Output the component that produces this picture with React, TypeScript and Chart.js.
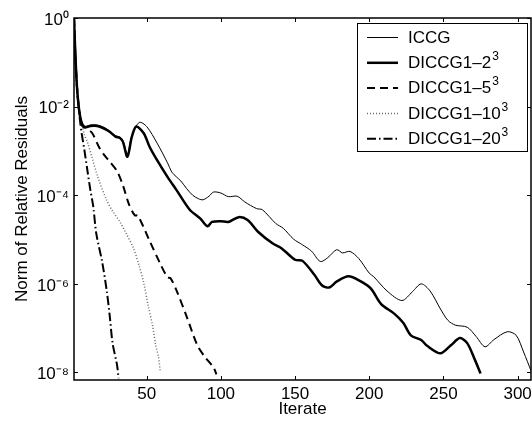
import { useEffect, useRef } from 'react';
import { Chart, registerables } from 'chart.js';

Chart.register(...registerables);

const FONT = '"Liberation Sans", Arial, Helvetica, sans-serif';

// ICCG
const iccgIter = [1, 2, 3, 4, 5, 6, 7, 9, 12, 15, 18, 22, 25, 29, 32, 34, 37, 40, 45, 50, 57, 64, 67, 70, 73, 77, 81, 85, 88, 92, 95, 100, 105, 111, 116, 124, 128, 137, 142, 149, 155, 161, 167, 172, 178, 182, 187, 193, 200, 203, 212, 222, 229, 235, 241, 248, 253, 258, 266, 272, 278, 284, 293, 299, 304, 309];
const iccgRes = [1, 1.26e-1, 2.8e-2, 1.12e-2, 6.3e-3, 4.5e-3, 3.7e-3, 3.6e-3, 3.85e-3, 3.9e-3, 3.75e-3, 3.3e-3, 2.8e-3, 2.2e-3, 2.05e-3, 1.7e-3, 8.5e-4, 2.2e-3, 4.4e-3, 3.55e-3, 1.5e-3, 5.4e-4, 3.3e-4, 2.6e-4, 2.1e-4, 1.4e-4, 1.0e-4, 8.3e-5, 7.9e-5, 9.5e-5, 1.18e-4, 1.12e-4, 9.3e-5, 9.5e-5, 7.1e-5, 5.0e-5, 4.7e-5, 2.3e-5, 1.8e-5, 1.02e-5, 7.6e-6, 5.5e-6, 3.2e-6, 3.9e-6, 5.9e-6, 5.0e-6, 5.4e-6, 3.7e-6, 1.74e-6, 1.45e-6, 6.9e-7, 4.2e-7, 6.6e-7, 1.0e-6, 6.9e-7, 2.7e-7, 1.5e-7, 1.17e-7, 1.05e-7, 6.5e-8, 3.8e-8, 5.5e-8, 8.3e-8, 6.9e-8, 2.9e-8, 1.1e-8];

// DICCG1-2^3
const d2Iter = [1, 2, 3, 4, 5, 6, 7, 9, 12, 15, 18, 22, 25, 29, 32, 34, 37, 40, 43, 48, 52, 57, 64, 70, 79, 86, 91, 94, 100, 105, 112, 118, 125, 135, 141, 150, 155, 163, 168, 173, 178, 186, 194, 201, 208, 217, 223, 228, 235, 239, 248, 255, 261, 266, 271, 275];
const d2Res = [1, 1.26e-1, 2.8e-2, 1.12e-2, 6.3e-3, 4.5e-3, 3.55e-3, 3.4e-3, 3.65e-3, 3.7e-3, 3.55e-3, 3.1e-3, 2.7e-3, 2.1e-3, 1.95e-3, 1.6e-3, 7.4e-4, 2.1e-3, 3.55e-3, 2.5e-3, 1.23e-3, 6.2e-4, 2.6e-4, 1.32e-4, 4.7e-5, 3.0e-5, 2.0e-5, 2.5e-5, 2.6e-5, 2.5e-5, 3.2e-5, 2.75e-5, 1.5e-5, 8.1e-6, 6.3e-6, 3.5e-6, 3.3e-6, 1.6e-6, 9.3e-7, 8.3e-7, 1.12e-6, 1.48e-6, 1.15e-6, 7.9e-7, 3.5e-7, 2.1e-7, 1.3e-7, 6.9e-8, 5.4e-8, 4.0e-8, 2.7e-8, 4.1e-8, 6.0e-8, 4.6e-8, 2.0e-8, 9.5e-9];

// DICCG1-5^3
const d5Iter = [1, 2, 3, 4, 5, 6, 8, 13, 18, 22, 25, 30, 34, 38, 42, 44, 52, 59, 64, 66, 70, 77, 84, 89, 95, 97];
const d5Res = [1, 1.26e-1, 2.8e-2, 1.12e-2, 6.3e-3, 4.5e-3, 3.5e-3, 2.6e-3, 1.2e-3, 7.6e-4, 5.8e-4, 3.5e-4, 1.66e-4, 6.3e-5, 3.5e-5, 3.5e-5, 9.3e-6, 2.9e-6, 1.4e-6, 1.35e-6, 7.2e-7, 1.8e-7, 4.2e-8, 2.3e-8, 1.3e-8, 9.1e-9];

// DICCG1-10^3
const d10Iter = [1, 2, 3, 4, 5, 6, 8, 10, 13, 17, 23, 27, 32, 36, 41, 45, 48, 51, 54, 56, 58, 59];
const d10Res = [1, 1.26e-1, 2.8e-2, 1.12e-2, 6.3e-3, 4.6e-3, 2.3e-3, 1.6e-3, 7.4e-4, 2.6e-4, 7.8e-5, 4.4e-5, 2.5e-5, 1.4e-5, 6.5e-6, 2.5e-6, 1.05e-6, 3.2e-7, 1.12e-7, 4.2e-8, 2.2e-8, 1.12e-8];

// DICCG1-20^3
const d20Iter = [1, 2, 3, 4, 5, 6, 8, 10, 12, 14, 16, 20, 23, 25, 27, 30, 31];
const d20Res = [1, 1.26e-1, 2.8e-2, 1.12e-2, 5.0e-3, 2.7e-3, 1.05e-3, 3.7e-4, 1.32e-4, 5.5e-5, 1.38e-5, 3.1e-6, 7.2e-7, 2.0e-7, 4.6e-8, 1.48e-8, 7.4e-9];

const seriesBase = ['ICCG', 'DICCG1–2', 'DICCG1–5', 'DICCG1–10', 'DICCG1–20'];
const seriesSup = ['', '3', '3', '3', '3'];

const xTickValues = [50, 100, 150, 200, 250, 300];
const yTickValues = [1e-8, 1e-6, 1e-4, 1e-2, 1];
const yTickLabels = ['10⁻⁸', '10⁻⁶', '10⁻⁴', '10⁻²', '10⁰'];

const toPoints = (xs: number[], ys: number[]) => xs.map((x, i) => ({ x, y: ys[i] }));

const framePlugin = {
  id: 'frameTicks',
  afterDatasetsDraw(chart: any) {
    const { ctx, chartArea: a, scales } = chart;
    ctx.save();
    ctx.strokeStyle = '#000';
    ctx.lineWidth = 1.5;
    ctx.strokeRect(a.left, a.top, a.right - a.left, a.bottom - a.top);
    ctx.lineWidth = 1;
    const tl = 4;
    ctx.beginPath();
    xTickValues.forEach((v) => {
      const px = Math.round(scales.x.getPixelForValue(v)) + 0.5;
      ctx.moveTo(px, a.bottom);
      ctx.lineTo(px, a.bottom - tl);
      ctx.moveTo(px, a.top);
      ctx.lineTo(px, a.top + tl);
    });
    yTickValues.forEach((v) => {
      const py = Math.round(scales.y.getPixelForValue(v)) + 0.5;
      ctx.moveTo(a.left, py);
      ctx.lineTo(a.left + tl, py);
      ctx.moveTo(a.right, py);
      ctx.lineTo(a.right - tl, py);
    });
    ctx.stroke();
    ctx.restore();
  },
};

const legendPlugin = {
  id: 'boxLegend',
  afterDraw(chart: any) {
    const ctx = chart.ctx;
    const x0 = 357.5, y0 = 23.5, w = 170, h = 128;
    ctx.save();
    ctx.fillStyle = '#fff';
    ctx.fillRect(x0, y0, w, h);
    ctx.strokeStyle = '#000';
    ctx.lineWidth = 1;
    ctx.setLineDash([]);
    ctx.strokeRect(x0, y0, w, h);
    chart.data.datasets.forEach((ds: any, i: number) => {
      const cy = 37.5 + i * 25.3;
      ctx.beginPath();
      ctx.setLineDash(ds.borderDash || []);
      ctx.lineWidth = ds.borderWidth;
      ctx.strokeStyle = ds.borderColor;
      ctx.moveTo(367, cy);
      ctx.lineTo(398, cy);
      ctx.stroke();
      ctx.setLineDash([]);
      ctx.fillStyle = '#000';
      ctx.textAlign = 'left';
      ctx.textBaseline = 'middle';
      ctx.font = `17px ${FONT}`;
      ctx.fillText(seriesBase[i], 408, cy + 0.5);
      if (seriesSup[i]) {
        const bw = ctx.measureText(seriesBase[i]).width;
        ctx.font = `12px ${FONT}`;
        ctx.fillText(seriesSup[i], 408 + bw + 1, cy - 6);
      }
    });
    ctx.restore();
  },
};

export default function App() {
  const ref = useRef<HTMLCanvasElement | null>(null);
  useEffect(() => {
    if (!ref.current) return;
    const font = { family: FONT, size: 17 };
    const chart = new Chart(ref.current, {
      type: 'line',
      data: {
        datasets: [
          { label: 'ICCG', data: toPoints(iccgIter, iccgRes), borderColor: '#000', borderWidth: 1, borderDash: [] },
          { label: 'DICCG1–2³', data: toPoints(d2Iter, d2Res), borderColor: '#000', borderWidth: 2.5, borderDash: [] },
          { label: 'DICCG1–5³', data: toPoints(d5Iter, d5Res), borderColor: '#000', borderWidth: 2, borderDash: [8, 5] },
          { label: 'DICCG1–10³', data: toPoints(d10Iter, d10Res), borderColor: '#6a6a6a', borderWidth: 1.5, borderDash: [1, 2] },
          { label: 'DICCG1–20³', data: toPoints(d20Iter, d20Res), borderColor: '#000', borderWidth: 2, borderDash: [9, 3, 1.5, 3] },
        ],
      },
      options: {
        responsive: false,
        animation: false,
        layout: { padding: { left: 0, top: 18, right: 1, bottom: 0 } },
        elements: {
          point: { radius: 0 },
          line: { tension: 0.3, fill: false },
        },
        plugins: { legend: { display: false }, tooltip: { enabled: false } },
        scales: {
          x: {
            type: 'linear',
            min: 1,
            max: 309,
            grid: { display: false, drawTicks: false },
            border: { display: false },
            afterBuildTicks: (s: any) => {
              s.ticks = xTickValues.map((v) => ({ value: v }));
            },
            afterFit: (s: any) => {
              s.height = 43;
              s.paddingLeft = 0;
              s.paddingRight = 0;
            },
            ticks: { font, color: '#000', padding: 4, maxRotation: 0, autoSkip: false },
            title: { display: true, text: 'Iterate', font, color: '#000', padding: { top: 0, bottom: 3 } },
          },
          y: {
            type: 'logarithmic',
            min: 6.76e-9,
            max: 1,
            grid: { display: false, drawTicks: false },
            border: { display: false },
            afterBuildTicks: (s: any) => {
              s.ticks = yTickValues.map((v) => ({ value: v }));
            },
            afterFit: (s: any) => {
              s.width = 74;
              s.paddingTop = 0;
              s.paddingBottom = 0;
            },
            ticks: {
              font,
              color: '#000',
              padding: 5,
              labelOffset: 2,
              autoSkip: false,
              callback: (_v: any, i: number) => yTickLabels[i],
            },
            title: {
              display: true,
              text: 'Norm of Relative Residuals',
              font,
              color: '#000',
              padding: { top: 12, bottom: 0 },
            },
          },
        },
      },
      plugins: [framePlugin, legendPlugin],
    } as any);
    return () => chart.destroy();
  }, []);
  return (
    <div style={{ position: 'absolute', left: 0, top: 0, width: 532, height: 423, background: '#fff' }}>
      <canvas ref={ref} width={532} height={423} />
    </div>
  );
}
